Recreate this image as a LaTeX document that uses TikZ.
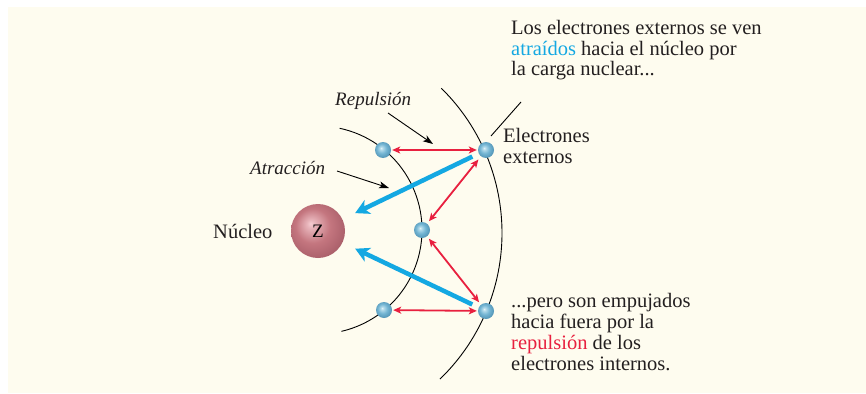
\documentclass[tikz,border=0pt]{standalone}
\usepackage{fontspec}
\setmainfont{Liberation Serif}
\usetikzlibrary{arrows.meta,calc}

\definecolor{bgcream}{HTML}{FEFCEF}
\definecolor{inktext}{HTML}{231F20}
\definecolor{repelred}{HTML}{E8203F}
\definecolor{attractblue}{HTML}{14A8E2}
\definecolor{nucHi}{HTML}{F6CDD2}
\definecolor{nucMid}{HTML}{C4767F}
\definecolor{nucEdge}{HTML}{A45A65}
\definecolor{elHi}{HTML}{E4F6FB}
\definecolor{elMid}{HTML}{73B5D3}
\definecolor{elEdge}{HTML}{4A8CAE}

% soft spheres lit from the upper left
\pgfdeclareradialshading{nucleusball}{\pgfpoint{-7bp}{7bp}}{%
  color(0bp)=(nucHi); color(4bp)=(nucHi!70!nucMid); color(16bp)=(nucMid);
  color(32bp)=(nucEdge); color(50bp)=(nucEdge)}
\pgfdeclareradialshading{electronball}{\pgfpoint{-6bp}{6bp}}{%
  color(0bp)=(elHi); color(4bp)=(elHi!60!elMid); color(15bp)=(elMid);
  color(31bp)=(elEdge); color(50bp)=(elEdge)}

\tikzset{
  electron/.style={circle, minimum size=16pt, inner sep=0pt, shading=electronball},
  nucleus/.style={circle, minimum size=54pt, inner sep=0pt, shading=nucleusball},
  shell/.style={draw=black, line width=0.9pt},
  repel/.style={draw=repelred, line width=1.8pt,
    {Stealth[length=8pt,width=7pt,inset=2pt]}-{Stealth[length=8pt,width=7pt,inset=2pt]}},
  attract/.style={draw=attractblue, line width=4.5pt,
    -{Stealth[length=14pt,width=15pt,inset=4pt]}},
  pointer/.style={draw=black, line width=0.9pt, -{Stealth[length=10pt,width=7pt,inset=2.5pt]}},
  label/.style={inner sep=0pt, text=inktext},
  note/.style={inner sep=0pt, text=inktext, align=left},
  slanted/.style={font=\fontsize{19}{20.5}\selectfont\itshape},
}

\begin{document}
\begin{tikzpicture}[x=1pt, y=-1pt, font=\fontsize{20.5}{20.7}\selectfont]
  \useasboundingbox (0,0) rectangle (866,393);
  \fill[white] (0,0) rectangle (866,393);
  \fill[bgcream] (8,7) rectangle (866,393);

  % electron shells
  \coordinate (innerTop) at ($(318,230)+(-78:104)$);
  \draw[shell] (innerTop) arc[start angle=-78, end angle=77, radius=104];
  \coordinate (outerTop) at ($(299,233)+(-45.5:203)$);
  \draw[shell] (outerTop) arc[start angle=-45.5, end angle=46, radius=203];

  % nucleus and electrons
  \node[nucleus, font=\fontsize{19}{20}\selectfont] (nuc) at (318,231) {Z};
  \node[electron] (inA) at (383,150) {};
  \node[electron] (inB) at (422,230) {};
  \node[electron] (inC) at (384,310) {};
  \node[electron] (outA) at (486,150) {};
  \node[electron] (outB) at (486,311) {};

  % leader for the outer electrons
  \coordinate (leadLow) at (491,136);
  \coordinate (leadHigh) at (521,102);
  \draw[black, line width=0.9pt] (leadLow) -- (leadHigh);

  % attraction towards the nucleus
  \draw[attract, shorten <=7pt, shorten >=14pt] (outA) -- (nuc);
  \draw[attract, shorten <=7pt, shorten >=14pt] (outB) -- (nuc);

  % repulsion between electrons
  \draw[repel, shorten <=1pt, shorten >=1pt] (inA) -- (outA);
  \draw[repel, shorten <=1pt, shorten >=1pt] (inC) -- (outB);
  \draw[repel, shorten <=4pt, shorten >=3pt] (outA) -- (inB);
  \draw[repel, shorten <=3pt, shorten >=3pt] (inB) -- (outB);

  % labels
  \node[label, anchor=base west] (nucLabel) at (213,238) {Núcleo};
  \node[label, slanted, anchor=base west] (repLabel) at (335,106) {Repulsión};
  \node[label, slanted, anchor=base west] (attLabel) at (250,174) {Atracción};
  \coordinate (repTip) at (433,144);
  \coordinate (repFrom) at (388,113);
  \draw[pointer] (repFrom) -- (repTip);
  \coordinate (attTip) at (389,188);
  \coordinate (attFrom) at (337,171);
  \draw[pointer] (attFrom) -- (attTip);

  % multi-line notes: the base anchor sits on the last line
  \node[note, anchor=base west] (outLabel) at (503,163) {Electrones\\externos};
  \node[note, anchor=base west] (topNote) at (511,76)
    {Los electrones externos se ven\\
     \textcolor{attractblue}{atraídos} hacia el núcleo por\\
     la carga nuclear...};
  \node[note, anchor=base west] (bottomNote) at (511,370)
    {...pero son empujados\\
     hacia fuera por la\\
     \textcolor{repelred}{repulsión} de los\\
     electrones internos.};
\end{tikzpicture}
\end{document}
